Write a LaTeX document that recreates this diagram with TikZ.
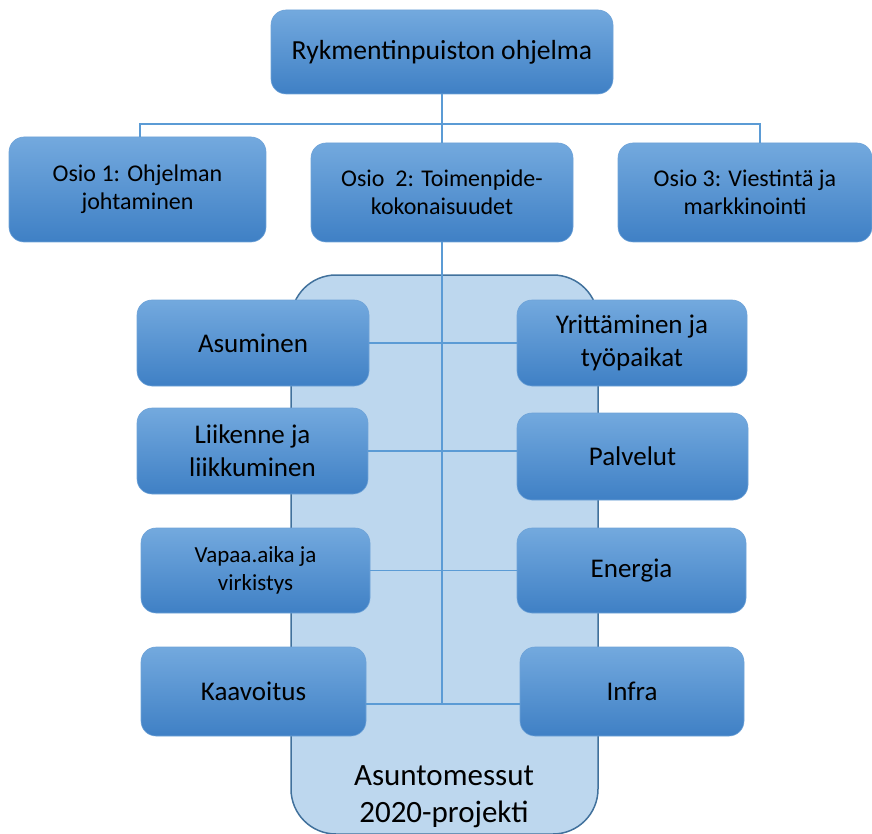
\documentclass[tikz,border=0pt]{standalone}
\usepackage{fontspec}
\setmainfont{Carlito}
\definecolor{btop}{HTML}{73A9DE}
\definecolor{bmid}{HTML}{5A9AD7}
\definecolor{bbot}{HTML}{3F80C5}
\definecolor{bedge}{HTML}{6FA3D8}
\definecolor{lineblue}{HTML}{5B9BD5}
\definecolor{bigfill}{HTML}{BDD7EE}
\definecolor{bigedge}{HTML}{41719C}
\begin{document}
\begin{tikzpicture}[x=1pt,y=-1pt,
  bx/.style={rounded corners=15pt, top color=btop, middle color=bmid, bottom color=bbot,
    draw=bedge, line width=0.6pt, align=center, text=black, inner sep=2pt},
  fbig/.style={font=\fontsize{27.6}{33}\selectfont},
  fosio/.style={font=\fontsize{24}{28}\selectfont},
  fvap/.style={font=\fontsize{23}{28}\selectfont},
  fin/.style={font=\fontsize{27}{33}\selectfont},
  conn/.style={draw=lineblue, line width=1.5pt},
  bigbox/.style={rounded corners=45pt, fill=bigfill, draw=bigedge, line width=1.5pt}]
\useasboundingbox (0,0) rectangle (872,834);
% container
\node[bigbox, minimum width=307pt, minimum height=559pt, inner sep=0pt] (big) at (444.5,554.5) {};
\node[font=\fontsize{31}{37}\selectfont, align=center] (lbl) at (444,797) {Asuntomessut\\2020-projekti};
% top level
\node[bx, fbig, minimum width=342pt, minimum height=84pt] (top) at (442,52) {Rykmentinpuiston ohjelma};
\node[bx, fosio, minimum width=257pt, minimum height=105pt] (o1) at (137.5,189.5) {Osio 1: Ohjelman\\johtaminen};
\node[bx, fosio, minimum width=262pt, minimum height=99pt] (o2) at (442,192.5) {Osio\ \ 2: Toimenpide-\\kokonaisuudet};
\node[bx, fosio, minimum width=254pt, minimum height=99pt] (o3) at (745,192.5) {Osio 3: Viestintä ja\\markkinointi};
% bus
\coordinate (busL) at (140,124);
\coordinate (busR) at (760,124);
\coordinate (kb) at (442,704);
\draw[conn] (top.south) -- (top.south |- busL);
\draw[conn] (busL |- o1.north) -- (busL) -- (busR) -- (busR |- o3.north);
\draw[conn] (o2.north) -- (o2.north |- busL);
\draw[conn] (o2.south) -- (kb);
% inner boxes
\node[bx, fin, minimum width=232pt, minimum height=86pt] (asu) at (253,343) {Asuminen};
\node[bx, fin, minimum width=231pt, minimum height=86pt] (lii) at (252.5,451) {Liikenne ja\\liikkuminen};
\node[bx, fvap, minimum width=229pt, minimum height=85pt] (vap) at (255.5,570.5) {Vapaa.aika ja\\virkistys};
\node[bx, fin, minimum width=225pt, minimum height=89pt] (kaa) at (253.5,691.5) {Kaavoitus};
\node[bx, fin, minimum width=230pt, minimum height=86pt] (yri) at (632,343) {Yrittäminen ja\\työpaikat};
\node[bx, fin, minimum width=231pt, minimum height=87pt] (pal) at (632.5,456.5) {Palvelut};
\node[bx, fin, minimum width=229pt, minimum height=85pt] (ene) at (631.5,570.5) {Energia};
\node[bx, fin, minimum width=224pt, minimum height=89pt] (inf) at (632,691.5) {Infra};
% horizontal connectors
\draw[conn] (asu.east) -- (yri.west);
\draw[conn] (lii.east) -- (pal.west |- lii.east);
\draw[conn] (vap.east) -- (ene.west);
\draw[conn] (kaa.east |- kb) -- (inf.west |- kb);
\end{tikzpicture}
\end{document}
